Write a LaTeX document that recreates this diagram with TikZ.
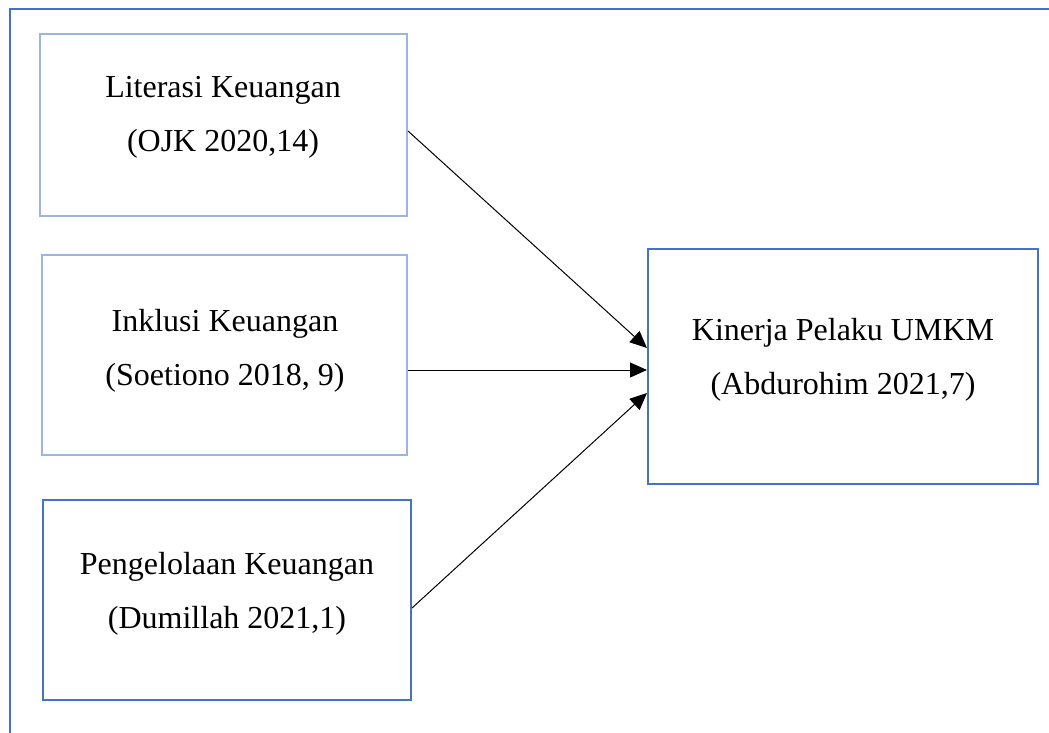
\documentclass[tikz,border=0pt]{standalone}
\usepackage{fontspec}
\setmainfont{Liberation Serif}
\usetikzlibrary{arrows.meta}
\definecolor{lightblue}{HTML}{9DB4E3}
\definecolor{darkblue}{HTML}{4472C4}
\begin{document}
\begin{tikzpicture}[x=1pt,y=-1pt,
  box/.style={draw=#1,line width=2pt,rectangle,inner sep=0pt},
  lbl/.style={align=center,font=\fontsize{32}{54}\selectfont,inner sep=0pt},
  conn/.style={black,line width=1pt,-{Triangle[length=17pt,width=15pt]}}]
\useasboundingbox (0,0) rectangle (1049,733);
\draw[darkblue,line width=2pt] (1049,9) -- (10,9) -- (10,733);
\node[box=lightblue,minimum width=367pt,minimum height=182pt] (b1) at (223.5,125) {};
\node[box=lightblue,minimum width=365pt,minimum height=200pt] (b2) at (224.5,355) {};
\node[box=darkblue,minimum width=368pt,minimum height=200pt] (b3) at (227,600) {};
\node[box=darkblue,minimum width=390pt,minimum height=235pt] (b4) at (843,366) {};
\node[lbl] (t1) at (223,117) {Literasi Keuangan\\(OJK 2020,14)};
\node[lbl] (t2) at (225,351) {Inklusi Keuangan\\(Soetiono 2018, 9)};
\node[lbl] (t3) at (227,594) {Pengelolaan Keuangan\\(Dumillah 2021,1)};
\node[lbl] (t4) at (843,360) {Kinerja Pelaku UMKM\\(Abdurohim 2021,7)};
\draw[conn] ([yshift=-6pt]b1.east) -- ([yshift=18pt]b4.west);
\draw[conn] ([yshift=-15pt]b2.east) -- ([yshift=-4pt]b4.west);
\draw[conn] ([yshift=-8pt]b3.east) -- ([yshift=-27pt]b4.west);
\end{tikzpicture}
\end{document}
